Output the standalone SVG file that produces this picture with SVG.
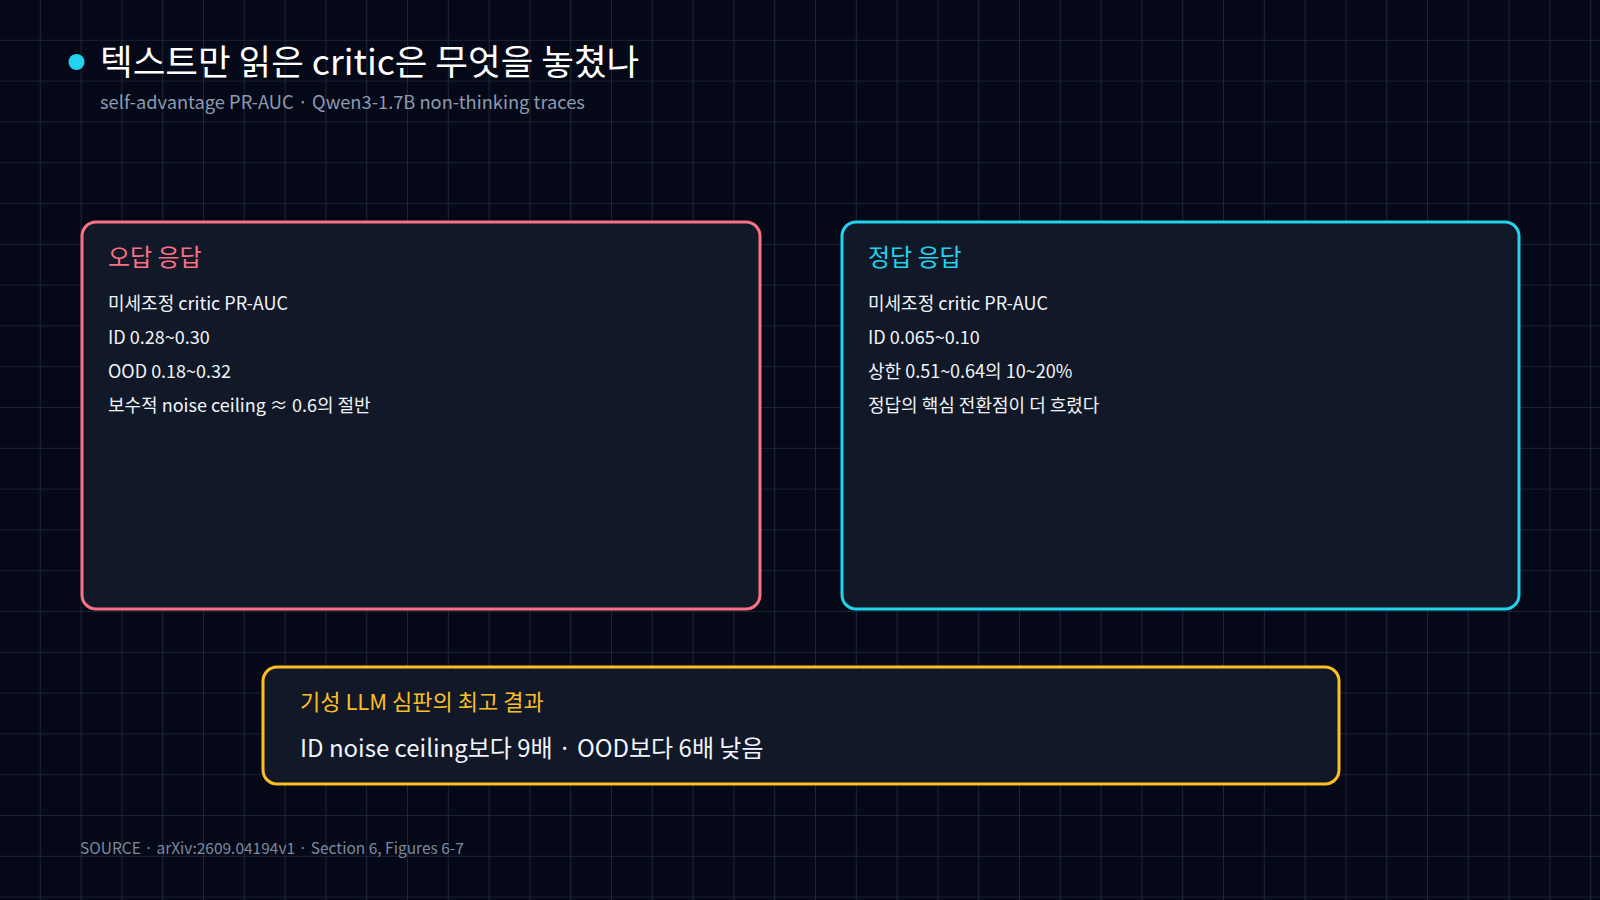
<svg xmlns="http://www.w3.org/2000/svg" width="1600" height="900" viewBox="0 0 1600 900">
<defs>
<pattern id="grid" width="40.8" height="40.8" patternUnits="userSpaceOnUse">
<path d="M40.8 0V40.8M0 40.8H40.8" fill="none" stroke="#222c3d" stroke-width="1.6"/>
</pattern>
<style>
text{font-family:"Noto Sans CJK KR","Noto Sans",sans-serif}
.box{fill:#111827;stroke-width:3}
.h{font-size:24px}
.t{font-size:18px;fill:#f1f5f9}
</style>
</defs>
<rect width="1600" height="900" fill="#050816"/>
<rect width="1600" height="900" fill="url(#grid)"/>
<g id="title">
<circle cx="76.5" cy="62" r="8" fill="#22d3ee"/>
<text x="100" y="75" font-size="35.5" fill="#ffffff">텍스트만 읽은 critic은 무엇을 놓쳤나</text>
<text x="100" y="109" font-size="18.3" fill="#8b9bb4">self-advantage PR-AUC · Qwen3-1.7B non-thinking traces</text>
</g>
<g id="wrong">
<rect class="box" x="82" y="222" width="678" height="387" rx="14" stroke="#fb7185"/>
<text class="h" x="108" y="266" fill="#fb7185">오답 응답</text>
<text class="t" x="108" y="310">미세조정 critic PR-AUC</text>
<text class="t" x="108" y="344">ID 0.28~0.30</text>
<text class="t" x="108" y="378">OOD 0.18~0.32</text>
<text class="t" x="108" y="412">보수적 noise ceiling ≈ 0.6의 절반</text>
</g>
<g id="right">
<rect class="box" x="842" y="222" width="677" height="387" rx="14" stroke="#22d3ee"/>
<text class="h" x="868" y="266" fill="#22d3ee">정답 응답</text>
<text class="t" x="868" y="310">미세조정 critic PR-AUC</text>
<text class="t" x="868" y="344">ID 0.065~0.10</text>
<text class="t" x="868" y="378">상한 0.51~0.64의 10~20%</text>
<text class="t" x="868" y="412">정답의 핵심 전환점이 더 흐렸다</text>
</g>
<g id="summary">
<rect class="box" x="263" y="667" width="1076" height="117" rx="14" stroke="#fbbf24"/>
<text x="300" y="710" font-size="22" fill="#fbbf24">기성 LLM 심판의 최고 결과</text>
<text x="300" y="757" font-size="24" fill="#f1f5f9">ID noise ceiling보다 9배 · OOD보다 6배 낮음</text>
</g>
<g id="connectors"></g>
<text x="80" y="854" font-size="15.5" fill="#7c8aa0">SOURCE · arXiv:2609.04194v1 · Section 6, Figures 6-7</text>
</svg>
